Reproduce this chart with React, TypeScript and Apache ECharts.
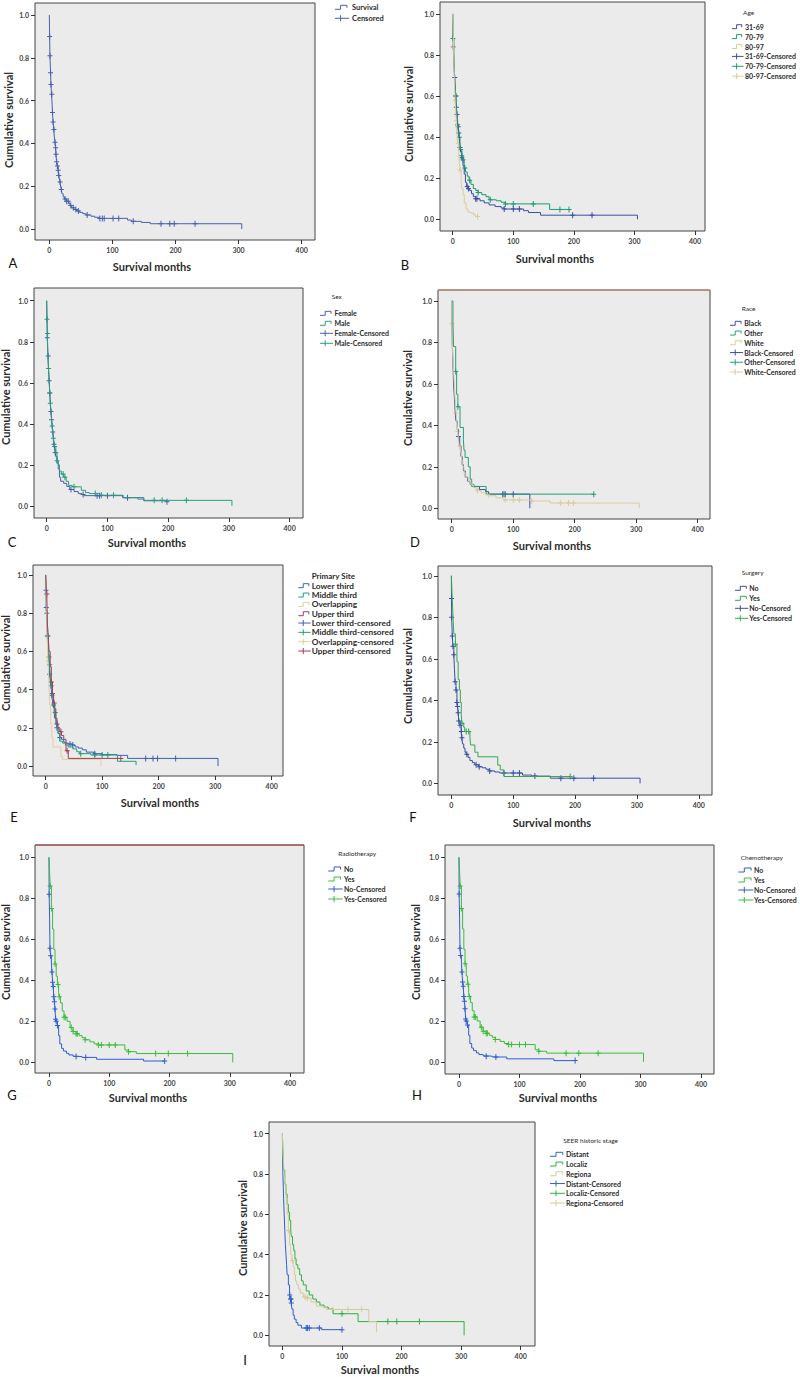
import React, { useEffect, useRef } from "react";
import * as echarts from "echarts";

// ---------- DATA ----------
const X_TICKS = [0, 100, 200, 300, 400];
const Y_TICKS = [0, 0.2, 0.4, 0.6, 0.8, 1.0];

// A: overall
const A_survival = [[0,1],[0.5,0.9],[1,0.81],[2,0.73],[2.6,0.675],[3.5,0.63],[4.5,0.58],[5,0.545],[6,0.5],[7,0.465],[8,0.43],[9,0.405],[10,0.38],[10.5,0.35],[11.5,0.315],[12.5,0.295],[14,0.275],[15,0.25],[16,0.235],[17,0.22],[18,0.2],[19,0.185],[20,0.165],[22,0.15],[24,0.14],[27,0.13],[31,0.12],[33,0.11],[35,0.1],[39,0.092],[43,0.085],[48,0.078],[53,0.072],[58,0.066],[66,0.06],[72,0.055],[80,0.05],[124,0.042],[130,0.036],[146,0.031],[160,0.025],[305,0]];
const A_censor = [0.5,1,2,2.6,4,5,6,7.4,9,10,10.5,11.6,12.7,14,15,17,19,25,27.5,30,34,38,42,46,60,80,84,87,101,110,133,177,191,198,231];

// B: age
const B_31_69 = [[0,1],[0.5,0.93],[1,0.84],[2,0.76],[3,0.69],[4,0.65],[5,0.6],[6,0.545],[7,0.51],[8,0.47],[9,0.45],[10,0.42],[11,0.39],[12,0.35],[13,0.33],[15,0.3],[17,0.26],[19,0.22],[21,0.18],[23,0.16],[25,0.15],[28,0.14],[31,0.125],[34,0.11],[38,0.1],[45,0.09],[52,0.08],[60,0.07],[70,0.062],[80,0.055],[85,0.05],[117,0.042],[125,0.033],[145,0.02],[305,0]];
const B_31_69_censor = [1,3.3,5,6,7,9,10,12,15,24,26,38,40,85,100,110,198,230];
const B_70_79 = [[0,1],[0.3,0.88],[2,0.8],[3,0.7],[4,0.65],[5,0.6],[6,0.55],[7,0.5],[8,0.46],[9,0.43],[10,0.4],[12,0.36],[13,0.34],[15,0.31],[17,0.29],[19,0.25],[21,0.23],[24,0.21],[27,0.19],[30,0.17],[34,0.15],[38,0.14],[42,0.13],[48,0.12],[55,0.11],[60,0.095],[72,0.09],[80,0.083],[86,0.075],[160,0.048],[193,0.048]];
const B_70_79_censor = [0.3,5,8,11,13,15,17,20,28,42,62,87,100,133,177,192];
const B_80_97 = [[0,1],[1,0.9],[1.5,0.84],[2,0.75],[3,0.65],[4,0.58],[5,0.52],[6,0.48],[7,0.42],[8,0.37],[10,0.33],[11,0.27],[12,0.24],[14,0.18],[15,0.15],[17,0.12],[19,0.08],[22,0.05],[25,0.035],[30,0.03],[35,0.02],[38,0.013],[41,0.013]];
const B_80_97_censor = [1.5,4,6,9,12,41];

// C: sex
const C_female = [[0,1],[0.5,0.91],[1,0.82],[2,0.73],[3,0.66],[4,0.61],[5,0.55],[6,0.5],[7,0.46],[8,0.42],[9,0.39],[10,0.36],[11,0.33],[12,0.3],[13,0.28],[14,0.26],[15,0.24],[17,0.21],[19,0.18],[21,0.14],[23,0.12],[28,0.11],[33,0.095],[38,0.08],[45,0.07],[52,0.06],[58,0.055],[62,0.05],[125,0.04],[160,0.025],[198,0.02]];
const C_female_censor = [1,2.5,4,5,7,8,10,12,14,40,60,83,87,100,133,198];
const C_male = [[0,1],[0.5,0.91],[1,0.84],[2,0.74],[3,0.67],[4,0.63],[5,0.55],[6,0.5],[7,0.46],[8,0.42],[9,0.39],[10,0.36],[11,0.33],[12,0.31],[13,0.29],[15,0.26],[17,0.22],[19,0.2],[21,0.17],[24,0.155],[28,0.14],[32,0.12],[36,0.1],[42,0.093],[57,0.076],[64,0.065],[70,0.06],[88,0.052],[126,0.04],[150,0.033],[160,0.027],[305,0]];
const C_male_censor = [0.5,1.5,3,5,6,9,11,13,15,17,27,30,45,80,90,110,177,190,230];

// D: race
const D_black = [[0,1],[1,0.78],[2,0.7],[3,0.6],[4,0.55],[5,0.5],[6,0.45],[7,0.42],[9,0.38],[11,0.346],[13,0.3],[15,0.25],[17,0.21],[19,0.18],[22,0.15],[26,0.13],[30,0.115],[36,0.105],[45,0.09],[55,0.08],[60,0.068],[127,0]];
const D_black_censor = [11,83,87,100];
const D_other = [[0,1],[2,0.9],[3,0.78],[6.5,0.66],[8,0.55],[10,0.49],[13.5,0.39],[19,0.33],[20,0.28],[21.7,0.245],[27,0.2],[30,0.14],[32.5,0.105],[56,0.068],[231,0.068]];
const D_other_censor = [6.5,10,85,231];
const D_white = [[0,1],[0.3,0.89],[1,0.8],[2,0.72],[3,0.66],[4,0.61],[5,0.55],[6,0.5],[7,0.46],[8,0.43],[9,0.4],[10,0.37],[11,0.33],[12,0.3],[14,0.27],[16,0.23],[18,0.2],[20,0.17],[23,0.15],[27,0.13],[31,0.115],[35,0.1],[40,0.085],[48,0.075],[55,0.065],[62,0.06],[72,0.05],[85,0.04],[128,0.035],[160,0.025],[305,0]];
const D_white_censor = [0.3,7,10,13,42,60,87,100,110,130,177,190,198];

// E: primary site
const E_lower = [[0,1],[0.5,0.92],[1,0.83],[2,0.75],[3,0.68],[4,0.64],[5,0.58],[6,0.54],[7,0.48],[8,0.45],[9,0.42],[10,0.4],[11,0.37],[12,0.34],[13,0.31],[15,0.28],[16,0.25],[18,0.22],[20,0.2],[22,0.17],[25,0.15],[28,0.14],[32,0.125],[36,0.12],[40,0.115],[47,0.11],[52,0.1],[58,0.094],[65,0.085],[72,0.073],[85,0.065],[100,0.06],[126,0.056],[145,0.04],[305,0]];
const E_lower_censor = [0.5,1,3,7,11,20,25,43,48,87,177,190,198,230];
const E_middle = [[0,1],[1,0.9],[2,0.8],[3,0.75],[4,0.68],[5,0.62],[6,0.57],[7,0.53],[8,0.48],[9,0.44],[10,0.42],[12,0.36],[14,0.32],[16,0.28],[18,0.24],[20,0.2],[22,0.17],[25,0.13],[30,0.12],[35,0.11],[40,0.1],[48,0.09],[55,0.075],[60,0.065],[80,0.058],[127,0.025],[160,0.005]];
const E_middle_censor = [2,4,6,7,10,14,17,62,87,100,110];
const E_overlap = [[0,1],[1,0.9],[2,0.75],[3,0.65],[4,0.55],[5,0.5],[6,0.4],[7,0.32],[9,0.22],[11,0.15],[13,0.1],[24,0.1],[27,0.05],[30,0.035],[98,0]];
const E_overlap_censor = [4];
const E_upper = [[0,1],[1,0.93],[2,0.9],[3,0.75],[4,0.7],[5,0.66],[6,0.6],[8,0.52],[10,0.44],[12,0.38],[14,0.33],[16,0.3],[18,0.25],[20,0.22],[22,0.2],[25,0.18],[28,0.16],[32,0.14],[36,0.08],[40,0.04],[133,0.04]];
const E_upper_censor = [2,10,12,15,20,27,38,133];

// F: surgery
const F_no = [[0,1],[0.2,0.89],[0.5,0.8],[1.5,0.71],[2.5,0.66],[4,0.62],[5,0.55],[6,0.49],[7.5,0.45],[9,0.39],[10,0.37],[11,0.34],[12,0.3],[14,0.28],[16,0.25],[17,0.22],[18,0.19],[20,0.17],[22,0.15],[24,0.14],[27,0.125],[30,0.11],[34,0.1],[38,0.09],[44,0.08],[50,0.075],[56,0.068],[61,0.06],[70,0.055],[78,0.05],[115,0.04],[130,0.035],[160,0.025],[305,0]];
const F_no_censor = [0.2,0.5,1.5,2.5,4,6,7.5,9,10,11,12,14,16,17,25,40,45,62,85,100,110,135,177,198,230];
const F_yes = [[0,1],[1,0.92],[2,0.85],[3,0.78],[4,0.72],[6.5,0.67],[9,0.586],[11,0.5],[13,0.45],[14.5,0.39],[16,0.33],[17,0.29],[20,0.27],[21.6,0.25],[30,0.22],[31,0.185],[38,0.15],[43,0.128],[75,0.088],[79,0.065],[85,0.033],[192,0.033]];
const F_yes_censor = [6.5,17,24,28,192];

// G: radiotherapy
const G_no = [[0,1],[0.3,0.82],[1,0.7],[1.7,0.556],[2.7,0.52],[4,0.48],[5,0.44],[6,0.39],[7,0.37],[8,0.32],[9,0.296],[10,0.26],[11,0.21],[12,0.2],[14,0.18],[16,0.13],[18,0.09],[21,0.068],[24,0.055],[29,0.044],[33,0.036],[40,0.03],[45,0.028],[55,0.024],[79,0.015],[157,0.0065],[192,0.0065]];
const G_no_censor = [0.3,1.7,2.7,5,6,7,8,9,10,11,12,14,45,61,192];
const G_yes = [[0,1],[1,0.93],[2,0.86],[4,0.75],[6,0.65],[8,0.55],[10,0.48],[12,0.42],[14,0.38],[16,0.34],[17,0.32],[19,0.29],[22,0.25],[25,0.22],[30,0.2],[35,0.17],[40,0.15],[45,0.14],[50,0.13],[55,0.12],[60,0.11],[68,0.1],[75,0.09],[82,0.085],[126,0.06],[132,0.052],[145,0.043],[305,0]];
const G_yes_censor = [2,4,10,15,17,25,27,37,40,45,47,60,82,87,100,110,132,177,198,230];

// H: chemotherapy (curves read identical to G)
const H_no = G_no;
const H_no_censor = G_no_censor;
const H_yes = G_yes;
const H_yes_censor = G_yes_censor;

// I: SEER historic stage
const I_distant = [[0,1],[0.3,0.88],[1,0.78],[2,0.68],[3,0.6],[4,0.52],[5,0.45],[6,0.4],[7,0.35],[8,0.3],[10,0.25],[12,0.2],[13,0.18],[15,0.16],[16,0.13],[18,0.1],[20,0.08],[23,0.063],[26,0.05],[32,0.036],[66,0.028],[100,0.028]];
const I_distant_censor = [12.3,13.5,14.5,15,40,42,45,62,100];
const I_localiz = [[0,1],[1,0.9],[2,0.82],[4,0.75],[6,0.7],[8,0.65],[10,0.61],[12,0.57],[14,0.52],[15,0.49],[17,0.45],[19,0.42],[21,0.38],[23,0.35],[26,0.33],[29,0.3],[32,0.27],[35,0.25],[40,0.22],[45,0.2],[51,0.18],[57,0.165],[63,0.15],[70,0.14],[77,0.13],[85,0.107],[127,0.068],[305,0]];
const I_localiz_censor = [100,177,192,230];
const I_regiona = [[0,1],[1,0.9],[2,0.85],[3,0.8],[4,0.75],[6,0.68],[8,0.6],[10,0.52],[12,0.45],[14,0.4],[16,0.37],[18,0.34],[20,0.3],[22,0.27],[24,0.25],[27,0.23],[30,0.21],[35,0.19],[40,0.185],[48,0.165],[57,0.145],[68,0.14],[74,0.128],[145,0.068],[158,0.015]];
const I_regiona_censor = [10,17,38,42,85,110,133];

// ---------- LAYOUT ----------
const BLUE = "#4761ae";
const NAVY = "#3b4ea6";
const TEAL = "#1f9a72";
const TAN = "#dccb9c";
const MAROON = "#a33d5c";
const GREEN = "#34a852";
const BRIGHT_BLUE = "#2f5fd0";
const BRIGHT_GREEN = "#3cbc3c";

const PANELS = [
  { letter: "A", grid: [35, 3, 280, 237], xr: [-22.7, 421.1], yr: [-0.051, 1.056], xT: [152, 266], yT: [8, 120], L: [13, 263],
    leg: { title: "", tx: 0, ty: 0, ix: 335, iw: 14, x: 352, y0: 7.3, dy: 11, fs: 7.5, tfs: 7 },
    groups: [{ name: "Survival", cname: "Censored", color: BLUE, curve: A_survival, censor: A_censor }] },
  { letter: "B", grid: [440, 2, 265, 229], xr: [-21, 416.5], yr: [-0.057, 1.058], xT: [555, 258], yT: [408, 114], L: [405, 265],
    leg: { title: "Age", tx: 743, ty: 12.7, ix: 732, iw: 11.5, x: 745, y0: 26.7, dy: 9.9, fs: 7, tfs: 6.5 },
    groups: [
      { name: "31-69", cname: "31-69-Censored", color: NAVY, curve: B_31_69, censor: B_31_69_censor },
      { name: "70-79", cname: "70-79-Censored", color: TEAL, curve: B_70_79, censor: B_70_79_censor },
      { name: "80-97", cname: "80-97-Censored", color: TAN, curve: B_80_97, censor: B_80_97_censor }] },
  { letter: "C", grid: [34, 288, 269, 230], xr: [-20.9, 422], yr: [-0.059, 1.062], xT: [147, 542], yT: [5, 397], L: [12, 542],
    leg: { title: "Sex", tx: 331.7, ty: 296, ix: 320, iw: 13, x: 334.5, y0: 313.3, dy: 10, fs: 7, tfs: 6.5 },
    groups: [
      { name: "Female", cname: "Female-Censored", color: "#4a5fae", curve: C_female, censor: C_female_censor },
      { name: "Male", cname: "Male-Censored", color: "#2aa07a", curve: C_male, censor: C_male_censor }] },
  { letter: "D", grid: [438, 290, 272, 229], xr: [-22.3, 420], yr: [-0.052, 1.053], xT: [552, 545], yT: [407, 398], L: [415, 542],
    leg: { title: "Race", tx: 741.7, ty: 308.3, ix: 730, iw: 13, x: 744.3, y0: 323.3, dy: 9.75, fs: 7, tfs: 6.5 },
    groups: [
      { name: "Black", cname: "Black-Censored", color: NAVY, curve: D_black, censor: D_black_censor },
      { name: "Other", cname: "Other-Censored", color: "#22a077", curve: D_other, censor: D_other_censor },
      { name: "White", cname: "White-Censored", color: TAN, curve: D_white, censor: D_white_censor }] },
  { letter: "E", grid: [33, 565, 250, 211], xr: [-22.4, 420], yr: [-0.052, 1.052], xT: [160, 802], yT: [5, 663], L: [14, 817],
    leg: { title: "Primary Site", tx: 311.7, ty: 576, ix: 298.3, iw: 12.4, x: 311.7, y0: 585.7, dy: 9.33, fs: 8.3, tfs: 8, tbold: true },
    groups: [
      { name: "Lower third", cname: "Lower third-censored", color: "#3f60b5", curve: E_lower, censor: E_lower_censor },
      { name: "Middle third", cname: "Middle third-censored", color: "#22a078", curve: E_middle, censor: E_middle_censor },
      { name: "Overlapping", cname: "Overlapping-censored", color: "#e0cfa0", curve: E_overlap, censor: E_overlap_censor },
      { name: "Upper third", cname: "Upper third-censored", color: MAROON, curve: E_upper, censor: E_upper_censor }] },
  { letter: "F", grid: [438, 566, 274, 229], xr: [-21.6, 421.3], yr: [-0.056, 1.047], xT: [552, 822], yT: [407, 676], L: [413, 817],
    leg: { title: "Surgery", tx: 741.7, ty: 572.3, ix: 735, iw: 13.3, x: 749.3, y0: 588.3, dy: 10, fs: 7, tfs: 6.5 },
    groups: [
      { name: "No", cname: "No-Censored", color: NAVY, curve: F_no, censor: F_no_censor },
      { name: "Yes", cname: "Yes-Censored", color: GREEN, curve: F_yes, censor: F_yes_censor }] },
  { letter: "G", grid: [35, 845, 269, 228], xr: [-23.2, 423.2], yr: [-0.052, 1.06], xT: [148, 1097], yT: [5, 952], L: [12, 1095],
    leg: { title: "Radiotherapy", tx: 338.3, ty: 853.3, ix: 328.3, iw: 14.4, x: 344, y0: 869, dy: 10, fs: 7, tfs: 6.5 },
    groups: [
      { name: "No", cname: "No-Censored", color: BRIGHT_BLUE, curve: G_no, censor: G_no_censor },
      { name: "Yes", cname: "Yes-Censored", color: BRIGHT_GREEN, curve: G_yes, censor: G_yes_censor }] },
  { letter: "H", grid: [445, 845, 269, 229], xr: [-23.1, 421.5], yr: [-0.059, 1.06], xT: [558, 1097], yT: [415, 952], L: [417, 1095],
    leg: { title: "Chemotherapy", tx: 740.7, ty: 857.7, ix: 738.3, iw: 15, x: 754, y0: 870, dy: 10, fs: 7, tfs: 6.5 },
    groups: [
      { name: "No", cname: "No-Censored", color: BRIGHT_BLUE, curve: H_no, censor: H_no_censor },
      { name: "Yes", cname: "Yes-Censored", color: BRIGHT_GREEN, curve: H_yes, censor: H_yes_censor }] },
  { letter: "I", grid: [269, 1122, 266, 224], xr: [-22.5, 424], yr: [-0.053, 1.058], xT: [380, 1369], yT: [242, 1228], L: [245, 1360],
    leg: { title: "SEER historic stage", tx: 563.3, ty: 1140, ix: 550, iw: 15, x: 566, y0: 1154.3, dy: 9.75, fs: 7, tfs: 6.5 },
    groups: [
      { name: "Distant", cname: "Distant-Censored", color: BRIGHT_BLUE, curve: I_distant, censor: I_distant_censor },
      { name: "Localiz", cname: "Localiz-Censored", color: "#30b040", curve: I_localiz, censor: I_localiz_censor },
      { name: "Regiona", cname: "Regiona-Censored", color: "#d4cc98", curve: I_regiona, censor: I_regiona_censor }] },
];

const PLUS = "path://M4,0H6V5H10V7H6V12H4V7H0V5H4Z";
const FONT = "Lato";
const INK = "#2b2b2b";

function survAt(curve: number[][], t: number) {
  let s = curve[0][1];
  for (const [ct, cs] of curve) {
    if (ct <= t) s = cs;
    else break;
  }
  return s;
}

function buildOption() {
  const grid: any[] = [];
  const xAxis: any[] = [];
  const yAxis: any[] = [];
  const series: any[] = [];
  const graphic: any[] = [];

  PANELS.forEach((p, i) => {
    const [left, top, width, height] = p.grid;
    grid.push({ left, top, width, height, show: true, backgroundColor: "#ebebeb", borderColor: "#444", borderWidth: 1 });
    xAxis.push({
      type: "value", gridIndex: i, min: p.xr[0], max: p.xr[1], position: "bottom",
      axisLine: { show: false, onZero: false }, splitLine: { show: false },
      axisTick: { show: true, inside: false, length: 4, customValues: X_TICKS, lineStyle: { color: "#333", width: 1 } },
      axisLabel: { customValues: X_TICKS, fontSize: 7, fontFamily: FONT, fontWeight: "bold", color: "#444", margin: 6 },
    });
    yAxis.push({
      type: "value", gridIndex: i, min: p.yr[0], max: p.yr[1], position: "left",
      axisLine: { show: false, onZero: false }, splitLine: { show: false },
      axisTick: { show: true, inside: false, length: 4, customValues: Y_TICKS, lineStyle: { color: "#333", width: 1 } },
      axisLabel: { customValues: Y_TICKS, fontSize: 7, fontFamily: FONT, fontWeight: "bold", color: "#444", margin: 6,
        formatter: (v: number) => v.toFixed(1) },
    });
    p.groups.forEach((g) => {
      series.push({
        type: "line", name: p.letter + "-" + g.name, xAxisIndex: i, yAxisIndex: i, step: "end",
        data: g.curve, showSymbol: false, symbol: "none", silent: true,
        lineStyle: { width: 1, color: g.color }, itemStyle: { color: g.color },
      });
    });
    p.groups.forEach((g) => {
      series.push({
        type: "scatter", name: p.letter + "-" + g.cname, xAxisIndex: i, yAxisIndex: i, silent: true,
        data: g.censor.map((t) => [t, survAt(g.curve, t)]),
        symbol: PLUS, symbolSize: [5, 6], itemStyle: { color: g.color, opacity: 1 },
      });
    });

    // axis titles + panel letter
    graphic.push({ type: "text", x: p.xT[0], y: p.xT[1], silent: true,
      style: { text: "Survival months", fontSize: 11, fontFamily: FONT, fontWeight: "bold", fill: INK, align: "center", verticalAlign: "middle" } });
    graphic.push({ type: "text", x: p.yT[0], y: p.yT[1], rotation: Math.PI / 2, silent: true,
      style: { text: "Cumulative survival", fontSize: 11, fontFamily: FONT, fontWeight: "bold", fill: INK, align: "center", verticalAlign: "middle" } });
    graphic.push({ type: "text", x: p.L[0], y: p.L[1], silent: true,
      style: { text: p.letter, fontSize: 13, fontFamily: FONT, fill: "#111", align: "center", verticalAlign: "middle" } });

    // legend
    const lg: any = p.leg;
    if (lg.title) {
      graphic.push({ type: "text", x: lg.tx, y: lg.ty, silent: true,
        style: { text: lg.title, fontSize: lg.tfs, fontFamily: FONT, fontWeight: lg.tbold ? "bold" : "normal", fill: INK, align: "left", verticalAlign: "middle" } });
    }
    const items: any[] = [];
    p.groups.forEach((g) => items.push({ kind: "step", label: g.name, color: g.color }));
    p.groups.forEach((g) => items.push({ kind: "plus", label: g.cname, color: g.color }));
    items.forEach((it, k) => {
      const y = lg.y0 + k * lg.dy;
      const x0 = lg.ix, w = lg.iw;
      if (it.kind === "step") {
        graphic.push({ type: "polyline", silent: true,
          shape: { points: [[x0, y + 2], [x0 + w * 0.4, y + 2], [x0 + w * 0.4, y - 2], [x0 + w * 0.85, y - 2], [x0 + w * 0.85, y + 0.5]] },
          style: { stroke: it.color, lineWidth: 1, fill: "none" } });
      } else {
        graphic.push({ type: "line", silent: true, shape: { x1: x0, y1: y, x2: x0 + w, y2: y }, style: { stroke: it.color, lineWidth: 1 } });
        graphic.push({ type: "line", silent: true, shape: { x1: x0 + w * 0.4, y1: y - 3, x2: x0 + w * 0.4, y2: y + 3 }, style: { stroke: it.color, lineWidth: 1 } });
      }
      graphic.push({ type: "text", x: lg.x, y, silent: true,
        style: { text: it.label, fontSize: lg.fs, fontFamily: FONT, fontWeight: "bold", fill: INK, align: "left", verticalAlign: "middle" } });
    });
  });

  // reddish top borders seen on panels D and G
  graphic.push({ type: "line", silent: true, z: 10, shape: { x1: 438, y1: 290, x2: 710, y2: 290 }, style: { stroke: "#d9896e", lineWidth: 1 } });
  graphic.push({ type: "line", silent: true, z: 10, shape: { x1: 35, y1: 845, x2: 304, y2: 845 }, style: { stroke: "#b4473a", lineWidth: 1 } });

  return { animation: false, backgroundColor: "#ffffff", grid, xAxis, yAxis, series, graphic };
}

export default function App() {
  const ref = useRef<HTMLDivElement>(null);
  useEffect(() => {
    const chart = echarts.init(ref.current as HTMLDivElement, null, { renderer: "svg" });
    chart.setOption(buildOption() as any);
    return () => chart.dispose();
  }, []);
  return (
    <div
      ref={ref}
      style={{ position: "absolute", left: 0, top: 0, width: 800, height: 1377, background: "#ffffff" }}
    />
  );
}
